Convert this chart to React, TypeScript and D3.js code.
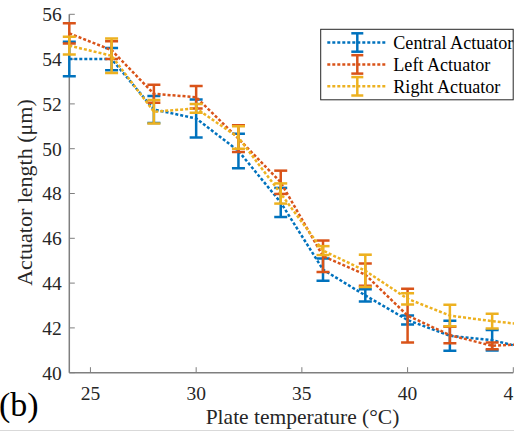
import React from "react";
import * as d3 from "d3";

const temps = [24, 26, 28, 30, 32, 34, 36, 38, 40, 42, 44, 46];
const central = [54.0, 54.0, 51.75, 51.35, 49.9, 47.6, 44.6, 43.45, 42.35, 41.65, 41.45, 41.0];
const centralErr = [0.77, 0.5, 0.6, 0.85, 0.77, 0.65, 0.5, 0.27, 0.2, 0.67, 0.46, 0.3];
const left = [55.15, 54.4, 52.45, 52.3, 50.45, 48.5, 45.2, 44.38, 42.55, 41.68, 41.2, 41.3];
const leftErr = [0.45, 0.4, 0.4, 0.5, 0.6, 0.52, 0.7, 0.5, 1.2, 0.37, 0.15, 0.2];
const right = [54.6, 54.15, 51.65, 51.8, 50.5, 48.0, 45.45, 44.55, 43.3, 42.55, 42.3, 42.1];
const rightErr = [0.4, 0.77, 0.52, 0.2, 0.5, 0.45, 0.2, 0.72, 0.25, 0.48, 0.33, 0.3];

const seriesNames = ["Central Actuator", "Left Actuator", "Right Actuator"];
const seriesColors = ["#0072BD", "#D95319", "#EDB120"];
const xTicks = [25, 30, 35, 40, 45];
const yTicks = [40, 42, 44, 46, 48, 50, 52, 54, 56];

const W = 514;
const H = 434;
const font = "'Liberation Serif', 'Times New Roman', Times, serif";

export default function App() {
  const x = d3.scaleLinear().domain([24, 45]).range([69.3, 513.3]);
  const y = d3.scaleLinear().domain([40, 56]).range([372.7, 14.3]);
  const series = [
    { vals: central, errs: centralErr },
    { vals: left, errs: leftErr },
    { vals: right, errs: rightErr },
  ];
  const line = d3
    .line<number>()
    .x((_, i) => x(temps[i]))
    .y((d) => y(d));
  const cap = 6.5;
  const axisColor = "#7f7f7f";
  const textColor = "#262626";

  const legendRows = [42.5, 64.4, 86.3];
  const tstyle = (size: number) => ({ fontFamily: font, fontSize: size + "px" });

  return (
    <svg
      width={W}
      height={H}
      style={{ position: "absolute", left: 0, top: 0, background: "#fff", fontFamily: font }}
    >
      <defs>
        <clipPath id="plotclip">
          <rect x={x(24) - 10} y={0} width={W} height={y(40) + 2} />
        </clipPath>
      </defs>
      {/* axes */}
      <line x1={x(24)} x2={x(24)} y1={y(56)} y2={y(40)} stroke={axisColor} strokeWidth={1.5} />
      <line x1={x(24)} x2={x(45)} y1={y(40)} y2={y(40)} stroke={axisColor} strokeWidth={1.5} />
      {yTicks.map((t) => (
        <g key={"y" + t}>
          <line x1={x(24)} x2={x(24) + 5.5} y1={y(t)} y2={y(t)} stroke={axisColor} strokeWidth={1} />
          <text
            x={x(24) - 7.5}
            y={y(t)}
            dy="0.35em"
            textAnchor="end"
            style={tstyle(19.5)}
            fill={textColor}
          >
            {t}
          </text>
        </g>
      ))}
      {xTicks.map((t) => (
        <g key={"x" + t}>
          <line x1={x(t)} x2={x(t)} y1={y(40)} y2={y(40) - 5.5} stroke={axisColor} strokeWidth={1} />
          <text
            x={x(t)}
            y={400}
            textAnchor="middle"
            style={tstyle(19.5)}
            fill={textColor}
          >
            {t}
          </text>
        </g>
      ))}
      <text x={302.5} y={423.5} textAnchor="middle" style={tstyle(21.5)} fill={textColor}>
        Plate temperature (°C)
      </text>
      <text
        transform={`translate(31.5,192.5) rotate(-90)`}
        textAnchor="middle"
        style={tstyle(22)}
        fill={textColor}
      >
        Actuator length (μm)
      </text>
      <text x={-1} y={415.5} style={tstyle(34)} fill="#000">
        (b)
      </text>

      {/* data */}
      <g clipPath="url(#plotclip)">
        {series.map((s, si) => (
          <g key={si}>
            <path
              d={line(s.vals) || ""}
              fill="none"
              stroke={seriesColors[si]}
              strokeWidth={2.5}
              strokeDasharray="3 2"
            />
            {s.vals.map((v, i) => {
              const cx = x(temps[i]);
              const t = y(v + s.errs[i]);
              const b = y(v - s.errs[i]);
              return (
                <g key={i} stroke={seriesColors[si]} strokeWidth={2.5}>
                  <line x1={cx} x2={cx} y1={t} y2={b} />
                  <line x1={cx - cap} x2={cx + cap} y1={t} y2={t} />
                  <line x1={cx - cap} x2={cx + cap} y1={b} y2={b} />
                </g>
              );
            })}
          </g>
        ))}
      </g>

      {/* legend */}
      <rect x={320.7} y={29.3} width={192.5} height={70.5} fill="#fff" stroke="#262626" strokeWidth={1} />
      {seriesNames.map((n, i) => (
        <g key={n}>
          <line
            x1={327.3}
            x2={386}
            y1={legendRows[i]}
            y2={legendRows[i]}
            stroke={seriesColors[i]}
            strokeWidth={2.5}
            strokeDasharray="3 2"
          />
          <g stroke={seriesColors[i]} strokeWidth={2.5}>
            <line x1={357.3} x2={357.3} y1={legendRows[i] - 9.2} y2={legendRows[i] + 9.2} />
            <line x1={357.3 - 6} x2={357.3 + 6} y1={legendRows[i] - 9.2} y2={legendRows[i] - 9.2} />
            <line x1={357.3 - 6} x2={357.3 + 6} y1={legendRows[i] + 9.2} y2={legendRows[i] + 9.2} />
          </g>
          <text x={393.3} y={legendRows[i]} dy="0.35em" style={tstyle(18.1)} fill="#000">
            {n}
          </text>
        </g>
      ))}
      <line x1={0} x2={W} y1={430.5} y2={430.5} stroke="#d9d9d9" strokeWidth={1} />
    </svg>
  );
}
